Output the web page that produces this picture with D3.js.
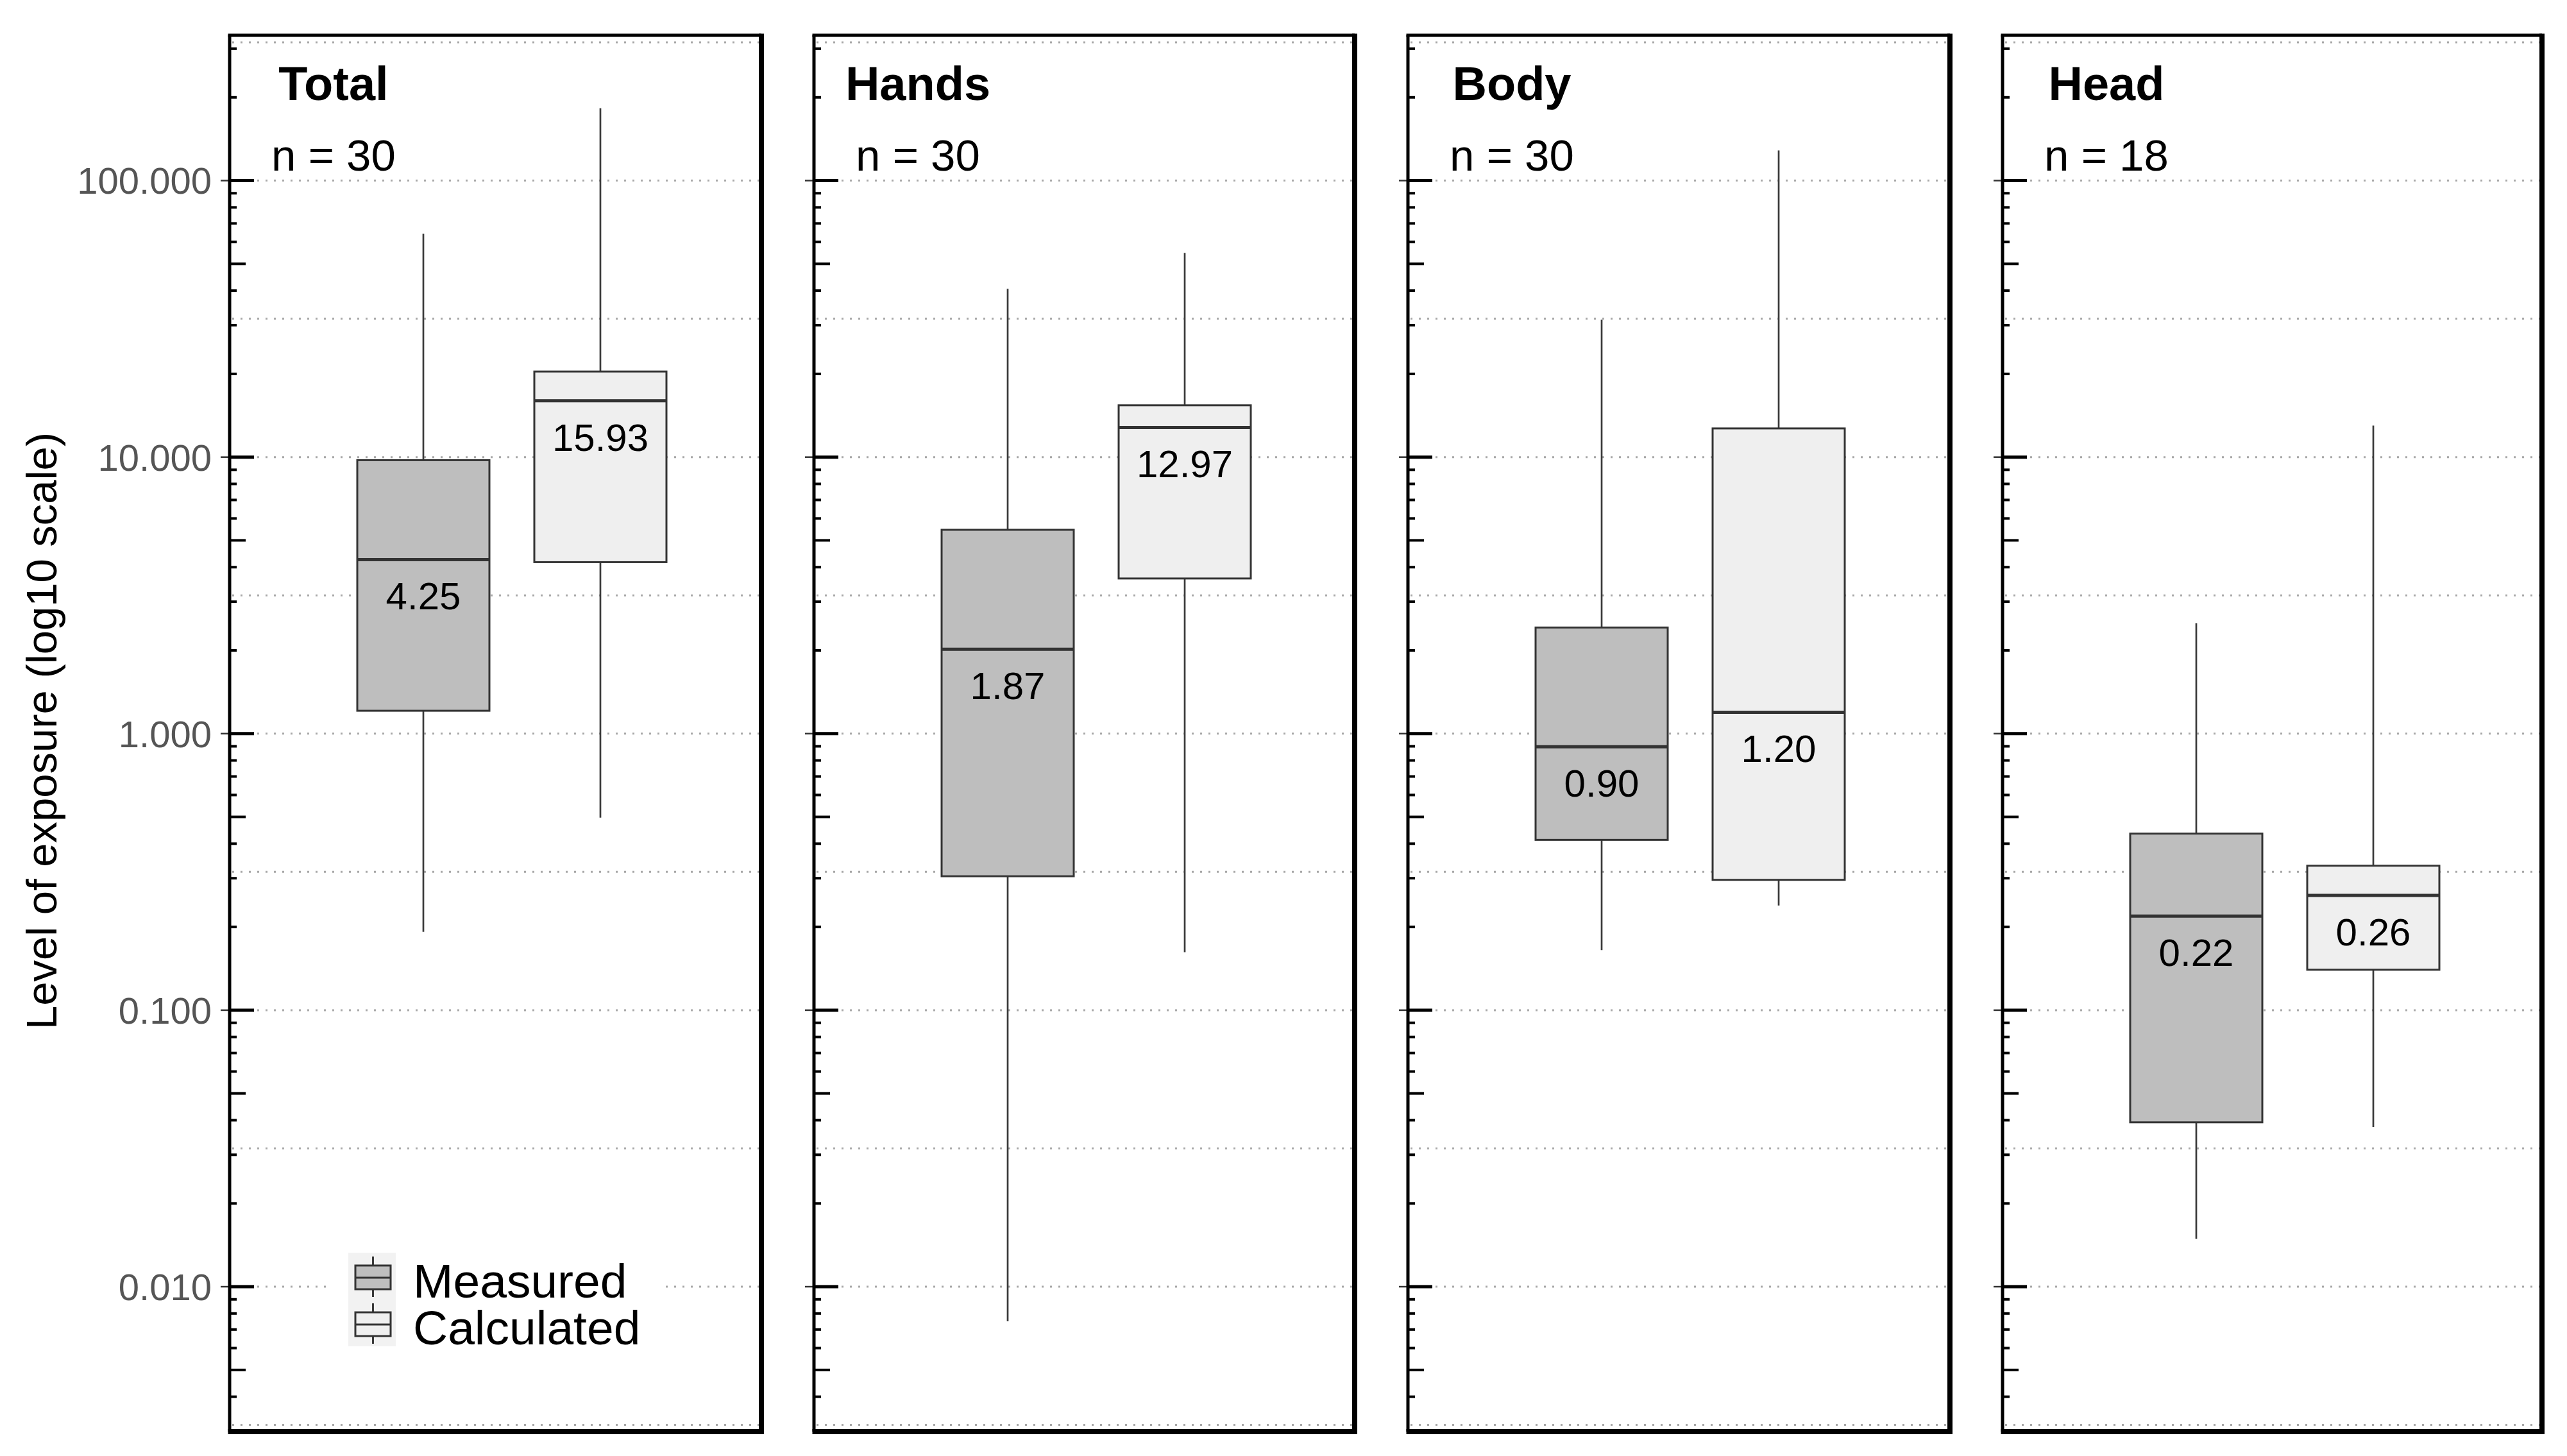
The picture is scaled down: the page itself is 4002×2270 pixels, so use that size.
<!DOCTYPE html>
<html>
<head>
<meta charset="utf-8">
<script src="https://cdn.jsdelivr.net/npm/d3@7"></script>
<style>
  body { margin: 0; background: #fff; }
  text { font-family: "Liberation Sans", Arial, sans-serif; }
</style>
</head>
<body>
<div id="chart"></div>
<script>
// ------------------------------------------------------------------
// Data
// ------------------------------------------------------------------
var categories = ["Total", "Hands", "Body", "Head"];
var sampleSizes = [30, 30, 30, 18];
var groups = ["Measured", "Calculated"];

var measuredLow    = [0.192, 0.0075, 0.165, 0.0149];
var measuredQ1     = [1.21, 0.305, 0.413, 0.0393];
var measuredMedian = [4.26, 2.02, 0.896, 0.219];
var measuredQ3     = [9.75, 5.46, 2.42, 0.435];
var measuredHigh   = [64.2, 40.6, 31.4, 2.51];
var measuredLabel  = ["4.25", "1.87", "0.90", "0.22"];

var calculatedLow    = [0.497, 0.162, 0.239, 0.0378];
var calculatedQ1     = [4.17, 3.64, 0.296, 0.140];
var calculatedMedian = [16.0, 12.8, 1.195, 0.26];
var calculatedQ3     = [20.4, 15.4, 12.7, 0.333];
var calculatedHigh   = [182.7, 54.8, 128.5, 13.0];
var calculatedLabel  = ["15.93", "12.97", "1.20", "0.26"];

var yTickValues = [0.01, 0.1, 1, 10, 100];
var yTickLabels = ["0.010", "0.100", "1.000", "10.000", "100.000"];

var groupFill = ["#bebebe", "#efefef"];

// ------------------------------------------------------------------
// Layout
// ------------------------------------------------------------------
var W = 4002, H = 2270;
var frameTop = 55, frameBottom = 2232;
var panelLeft  = [358, 1269, 2195, 3122];
var panelRight = [1187, 2112, 3040, 3963];
var boxWidth = 206;

var svg = d3.select("#chart").append("svg")
    .attr("width", W)
    .attr("height", H);

var y = d3.scaleLog()
    .domain([Math.pow(10, -2.5), Math.pow(10, 2.5)])
    .range([2221.6, 66]);

// same scale, extended to the frame edges (for tick generation)
var yFrame = y.copy().domain([y.invert(frameBottom), y.invert(frameTop)]);

var x = d3.scalePoint().domain(groups).range([302, 578]);

var gridValues = d3.range(-5, 6).map(function(k) { return Math.pow(10, k / 2); });

function boxStats(i) {
    return [
        { group: groups[0], low: measuredLow[i], q1: measuredQ1[i], med: measuredMedian[i], q3: measuredQ3[i], high: measuredHigh[i], label: measuredLabel[i], fill: groupFill[0] },
        { group: groups[1], low: calculatedLow[i], q1: calculatedQ1[i], med: calculatedMedian[i], q3: calculatedQ3[i], high: calculatedHigh[i], label: calculatedLabel[i], fill: groupFill[1] }
    ];
}

categories.forEach(function(cat, i) {

    var left = panelLeft[i], right = panelRight[i];
    var g = svg.append("g").attr("transform", "translate(" + left + ",0)");
    var pw = right - left;

    // grid
    g.selectAll("line.grid")
        .data(gridValues)
        .enter().append("line")
        .attr("class", "grid")
        .attr("x1", 4).attr("x2", pw - 4)
        .attr("y1", function(d) { return y(d); })
        .attr("y2", function(d) { return y(d); })
        .attr("stroke", "#a8a8a8")
        .attr("stroke-width", 3)
        .attr("stroke-dasharray", "3 10");

    // ticks
    var ticks = yFrame.ticks().filter(function(d) {
        var p = y(d);
        return p > frameTop + 4 && p < frameBottom - 4;
    });
    ticks.forEach(function(t) {
        var lead = Math.round(t / Math.pow(10, Math.floor(Math.log10(t) + 1e-9)));
        var py = y(t);
        if (lead === 1) {
            g.append("line").attr("x1", -14).attr("x2", 0).attr("y1", py).attr("y2", py)
                .attr("stroke", "#333").attr("stroke-width", 2.5);
            g.append("line").attr("x1", 0).attr("x2", 38).attr("y1", py).attr("y2", py)
                .attr("stroke", "#000").attr("stroke-width", 5);
        } else {
            g.append("line").attr("x1", 0).attr("x2", lead === 5 ? 25 : 11).attr("y1", py).attr("y2", py)
                .attr("stroke", "#000").attr("stroke-width", 4);
        }
    });

    // y tick labels, first panel only
    if (i === 0) {
        g.selectAll("text.ytick")
            .data(yTickValues)
            .enter().append("text")
            .attr("class", "ytick")
            .attr("x", -28)
            .attr("y", function(d) { return y(d); })
            .attr("dy", "0.36em")
            .attr("text-anchor", "end")
            .attr("font-size", 58)
            .attr("fill", "#555")
            .text(function(d, k) { return yTickLabels[k]; });
    }

    var stats = boxStats(i);

    // whiskers
    var boxes = g.selectAll("g.box").data(stats).enter().append("g").attr("class", "box");
    boxes.append("line")
        .attr("x1", function(d) { return x(d.group); })
        .attr("x2", function(d) { return x(d.group); })
        .attr("y1", function(d) { return y(d.high); })
        .attr("y2", function(d) { return y(d.low); })
        .attr("stroke", "#3a3a3a")
        .attr("stroke-width", 2.7);

    boxes.append("rect")
        .attr("x", function(d) { return x(d.group) - boxWidth / 2; })
        .attr("width", boxWidth)
        .attr("y", function(d) { return y(d.q3); })
        .attr("height", function(d) { return y(d.q1) - y(d.q3); })
        .attr("fill", function(d) { return d.fill; })
        .attr("stroke", "#333")
        .attr("stroke-width", 3);

    boxes.append("line")
        .attr("x1", function(d) { return x(d.group) - boxWidth / 2; })
        .attr("x2", function(d) { return x(d.group) + boxWidth / 2; })
        .attr("y1", function(d) { return y(d.med); })
        .attr("y2", function(d) { return y(d.med); })
        .attr("stroke", "#333")
        .attr("stroke-width", 5);

    boxes.append("text")
        .attr("x", function(d) { return x(d.group); })
        .attr("y", function(d) { return y(d.med) + 78; })
        .attr("text-anchor", "middle")
        .attr("font-size", 60)
        .attr("fill", "#000")
        .text(function(d) { return d.label; });

    // panel title and n
    g.append("text")
        .attr("x", 162).attr("y", 156)
        .attr("text-anchor", "middle")
        .attr("font-size", 74)
        .attr("font-weight", "bold")
        .text(cat);
    g.append("text")
        .attr("x", 162).attr("y", 266)
        .attr("text-anchor", "middle")
        .attr("font-size", 69)
        .text("n = " + sampleSizes[i]);

    // legend, first panel only
    if (i === 0) {
        var lg = g.append("g");
        lg.append("rect")
            .attr("x", 514 - left).attr("y", 1940)
            .attr("width", 514).attr("height", 175)
            .attr("fill", "#fff");
        lg.append("rect")
            .attr("x", 543 - left).attr("y", 1953)
            .attr("width", 74).attr("height", 146)
            .attr("fill", "#f2f2f2");
        groups.forEach(function(grp, k) {
            var cy = 1992 + k * 73;
            var cx = 581.5 - left;
            lg.append("line").attr("x1", cx).attr("x2", cx)
                .attr("y1", cy - 33).attr("y2", cy + 30)
                .attr("stroke", "#3a3a3a").attr("stroke-width", 3);
            lg.append("rect")
                .attr("x", cx - 27.5).attr("y", cy - 19)
                .attr("width", 55).attr("height", 37)
                .attr("fill", groupFill[k])
                .attr("stroke", "#333").attr("stroke-width", 3);
            lg.append("line").attr("x1", cx - 27.5).attr("x2", cx + 27.5)
                .attr("y1", cy).attr("y2", cy)
                .attr("stroke", "#333").attr("stroke-width", 3);
            lg.append("text")
                .attr("x", 644 - left).attr("y", 2023 + k * 73)
                .attr("font-size", 75)
                .text(grp);
        });
    }

    // frame: thin left/top, heavier right/bottom
    g.append("line").attr("x1", -2.5).attr("x2", pw).attr("y1", frameTop).attr("y2", frameTop)
        .attr("stroke", "#000").attr("stroke-width", 5);
    g.append("line").attr("x1", 0).attr("x2", 0).attr("y1", frameTop).attr("y2", frameBottom)
        .attr("stroke", "#000").attr("stroke-width", 5);
    g.append("line").attr("x1", pw).attr("x2", pw).attr("y1", frameTop - 2.5).attr("y2", frameBottom + 4)
        .attr("stroke", "#000").attr("stroke-width", 8);
    g.append("line").attr("x1", -2.5).attr("x2", pw + 4).attr("y1", frameBottom).attr("y2", frameBottom)
        .attr("stroke", "#000").attr("stroke-width", 8);
});

// y axis title
svg.append("text")
    .attr("transform", "translate(88,1139.5) rotate(-90)")
    .attr("text-anchor", "middle")
    .attr("font-size", 67)
    .attr("fill", "#000")
    .text("Level of exposure (log10 scale)");
</script>
</body>
</html>
